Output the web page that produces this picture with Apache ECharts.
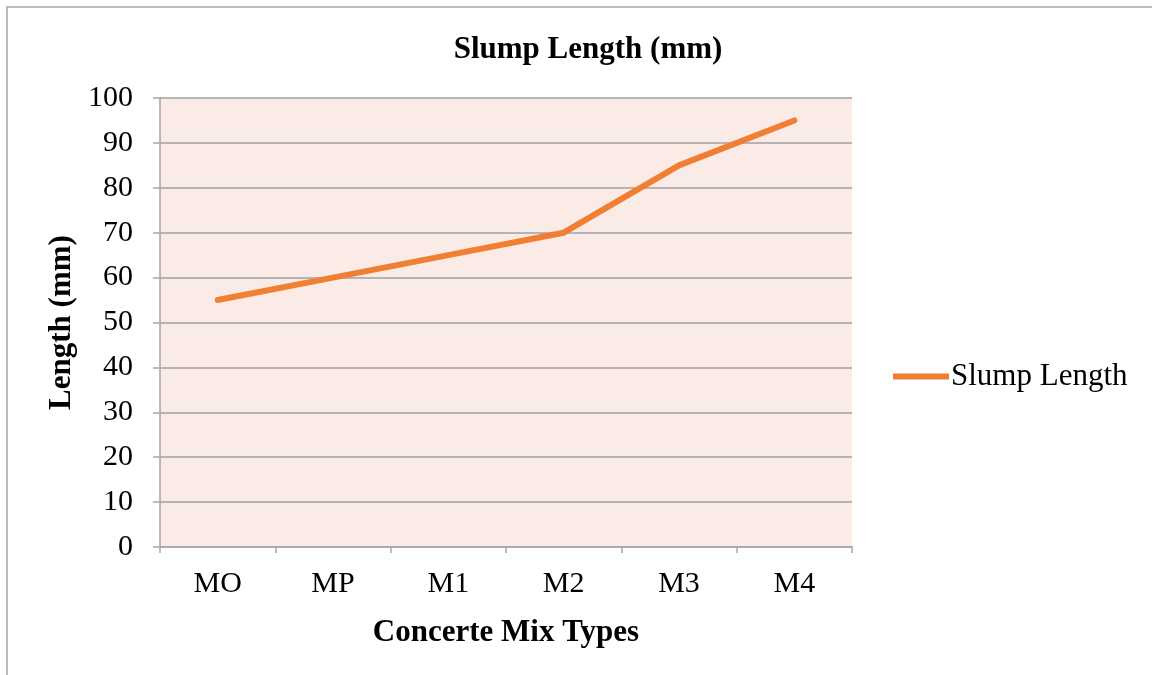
<!DOCTYPE html>
<html><head><meta charset="utf-8">
<script src="https://cdn.jsdelivr.net/npm/echarts@6/dist/echarts.min.js"></script>
<style>html,body{margin:0;padding:0;background:#fff}#c{width:1152px;height:675px}</style>
</head><body><div id="c"></div>
<script>
const categories = ['MO', 'MP', 'M1', 'M2', 'M3', 'M4'];
const slumpLength = [55, 60, 65, 70, 85, 95];
const seriesName = 'Slump Length';
const titleText = 'Slump Length (mm)';
const xName = 'Concerte Mix Types';
const yName = 'Length (mm)';

const F = '"Liberation Serif", "Times New Roman", serif';
const chart = echarts.init(document.getElementById('c'));
chart.setOption({
  animation: false,
  backgroundColor: '#fff',
  graphic: [{
    type: 'rect', silent: true,
    shape: { x: 7, y: 7, width: 1160, height: 680 },
    style: { fill: 'none', stroke: '#a6a6a6', lineWidth: 1.5 }
  }],
  title: {
    text: titleText, left: 583, top: 29, textAlign: 'center',
    textStyle: { fontFamily: F, fontSize: 31, fontWeight: 'bold', color: '#000' }
  },
  legend: {
    left: 888, top: 356, itemWidth: 58, itemHeight: 6, itemGap: 4,
    data: [{ name: seriesName, icon: 'path://M0,0 L56,0 L56,6 L0,6 Z' }],
    textStyle: { fontFamily: F, fontSize: 31, color: '#000', padding: [0, 0, 0, -4] }
  },
  grid: { left: 160, right: 300, top: 98, bottom: 128, show: true, backgroundColor: '#faebe6', borderWidth: 0 },
  xAxis: {
    type: 'category', data: categories, boundaryGap: true,
    name: xName, nameLocation: 'middle', nameGap: 70,
    nameTextStyle: { fontFamily: F, fontSize: 31, fontWeight: 'bold', color: '#000' },
    axisLine: { lineStyle: { color: '#a6a6a6', width: 1.5 } },
    axisTick: { show: true, length: 6, lineStyle: { color: '#a6a6a6', width: 1.5 } },
    axisLabel: { fontFamily: F, fontSize: 30, color: '#000', margin: 22 }
  },
  yAxis: {
    type: 'value', min: 0, max: 100, interval: 10,
    name: yName, nameLocation: 'middle', nameGap: 82, nameRotate: 90,
    nameTextStyle: { fontFamily: F, fontSize: 31, fontWeight: 'bold', color: '#000' },
    axisLine: { show: true, lineStyle: { color: '#a6a6a6', width: 1.5 } },
    axisTick: { show: true, length: 7, lineStyle: { color: '#a6a6a6', width: 1.5 } },
    axisLabel: { fontFamily: F, fontSize: 30, color: '#000', margin: 27 },
    splitLine: { lineStyle: { color: '#a0a0a0', width: 1.5 } }
  },
  series: [{
    name: seriesName, type: 'line', data: slumpLength,
    symbol: 'none', smooth: false,
    lineStyle: { color: '#f07f33', width: 6, cap: 'round', join: 'round' },
    itemStyle: { color: '#f07f33' }
  }]
});
</script></body></html>
